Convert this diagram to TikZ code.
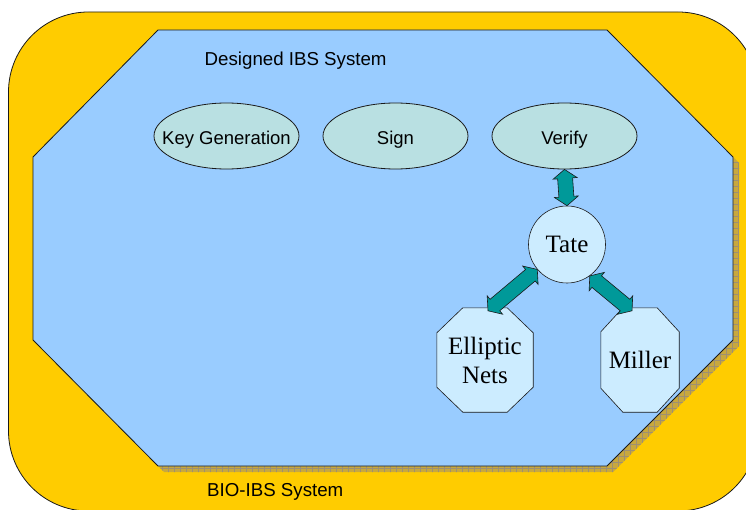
\documentclass[tikz,border=0pt]{standalone}
\usepackage{fontspec}
\setmainfont{Liberation Serif}
\setsansfont{Liberation Sans}
\usetikzlibrary{calc,shapes.geometric}

\definecolor{gold}{HTML}{FFCC00}
\definecolor{sky}{HTML}{99CCFF}
\definecolor{paleteal}{HTML}{B9E0E2}
\definecolor{paleblue}{HTML}{CCECFF}
\definecolor{arrowteal}{HTML}{009999}
\definecolor{shadowol}{HTML}{C8A83E}
\definecolor{gridgray}{HTML}{9F9070}
\definecolor{edge}{HTML}{1A1A1A}

\pgfdeclarelayer{back}
\pgfdeclarelayer{shapes}
\pgfsetlayers{back,shapes,main}

% double-headed block arrow between two named points
\newcommand\blockarrow[2]{%
  \coordinate (ba-a) at ($(#1)!9pt!(#2)$);
  \coordinate (ba-b) at ($(#2)!9pt!(#1)$);
  \draw[blockarr] (#1) -- ($(ba-a)!12pt!90:(#2)$) -- ($(ba-a)!7.5pt!90:(#2)$)
    -- ($(ba-b)!7.5pt!-90:(#1)$) -- ($(ba-b)!12pt!-90:(#1)$) -- (#2)
    -- ($(ba-b)!12pt!90:(#1)$) -- ($(ba-b)!7.5pt!90:(#1)$)
    -- ($(ba-a)!7.5pt!-90:(#2)$) -- ($(ba-a)!12pt!-90:(#2)$) -- cycle;}

% label text that does not widen its ellipse
\newcommand\tasklabel[1]{\makebox[0pt][c]{#1}}

\begin{document}
\begin{tikzpicture}[x=1pt,y=-1pt,
  outline/.style={draw=edge,line width=0.8pt},
  sanslbl/.style={font=\sffamily\fontsize{18.7}{22}\selectfont,inner sep=0pt},
  task/.style={ellipse,outline,fill=paleteal,minimum width=145pt,minimum height=66pt,
    inner sep=0pt,text height=17.4pt,text depth=0pt,
    font=\sffamily\fontsize{18.5}{22}\selectfont},
  prim/.style={inner sep=0pt,align=center,font=\fontsize{25}{29}\selectfont},
  octo/.style={outline,line width=0.6pt,fill=paleblue},
  blockarr/.style={draw=edge,line width=0.6pt,fill=arrowteal,line join=miter}]
\useasboundingbox (0,0) rectangle (746,510);

\begin{pgfonlayer}{back}
  % outer system frame
  \begin{scope}
    \clip (0,0) rectangle (746,510);
    \draw[outline,fill=gold,rounded corners=80pt] (8.5,12) rectangle (758,511);
  \end{scope}
  % shadow of the inner octagon
  \begin{scope}
    \clip[shift={(6,6)}] (158,30) -- (607,30) -- (733,157) -- (733,340)
      -- (607,466) -- (158,466) -- (33,340) -- (33,157) -- cycle;
    \fill[shadowol] (0,0) rectangle (746,510);
    \draw[gridgray,line width=0.5pt] (0,0) grid[step=6pt] (746,510);
  \end{scope}
  % inner system octagon
  \draw[outline,fill=sky] (158,30) -- (607,30) -- (733,157) -- (733,340)
      -- (607,466) -- (158,466) -- (33,340) -- (33,157) -- cycle;
\end{pgfonlayer}

\node[sanslbl,anchor=west] (inner) at (204.5,61) {Designed IBS System};
\node[sanslbl,anchor=west] (outer) at (207,492) {BIO-IBS System};

\node[task] (keygen) at (226.5,136) {\tasklabel{Key Generation}};
\node[task] (sign)   at (395.5,136) {\tasklabel{Sign}};
\node[task] (verify) at (564.5,136) {\tasklabel{Verify}};

\node[prim,circle,outline,line width=0.6pt,fill=paleblue,minimum size=77pt] (tate) at (567,244.5) {Tate};
\node[prim,minimum width=96pt,minimum height=104pt] (ell) at (485,360) {Elliptic\\Nets};
\node[prim,minimum width=78pt,minimum height=104pt] (mil) at (640,360) {Miller};

\begin{pgfonlayer}{shapes}
  \draw[octo] ([xshift=26pt]ell.north west) -- ([xshift=-26pt]ell.north east)
    -- ([yshift=-25pt]ell.north east) -- ([yshift=25pt]ell.south east)
    -- ([xshift=-26pt]ell.south east) -- ([xshift=26pt]ell.south west)
    -- ([yshift=25pt]ell.south west) -- ([yshift=-25pt]ell.north west) -- cycle;
  \draw[octo] ([xshift=22pt]mil.north west) -- ([xshift=-22pt]mil.north east)
    -- ([yshift=-24pt]mil.north east) -- ([yshift=24pt]mil.south east)
    -- ([xshift=-22pt]mil.south east) -- ([xshift=22pt]mil.south west)
    -- ([yshift=24pt]mil.south west) -- ([yshift=-24pt]mil.north west) -- cycle;
\end{pgfonlayer}

\coordinate (ellTop) at ([xshift=3pt,yshift=-3pt]ell.north);
\coordinate (milTop) at ([xshift=-8pt,yshift=-3pt]mil.north);

\blockarrow{verify.south}{tate.north}
\blockarrow{tate.220}{ellTop}
\blockarrow{tate.-54}{milTop}
\end{tikzpicture}
\end{document}
